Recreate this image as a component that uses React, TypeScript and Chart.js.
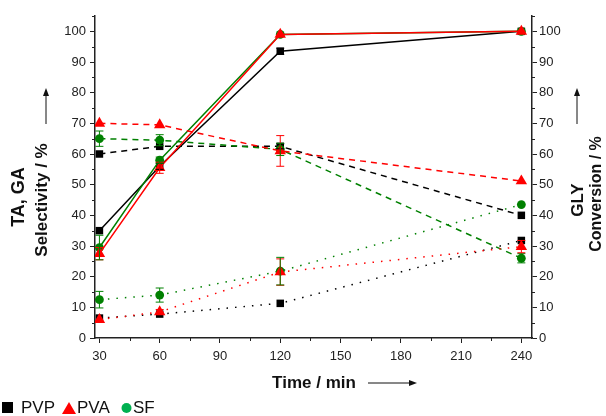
import React, { useEffect, useRef } from 'react';
import { Chart, registerables } from 'chart.js';
Chart.register(...registerables);

// ---- data ----
const times = [30, 60, 120, 240];
const xTicks = [30, 60, 90, 120, 150, 180, 210, 240];
const yTicks = [0, 10, 20, 30, 40, 50, 60, 70, 80, 90, 100];

const pvpConv = [35, 56, 93.5, 100];
const pvaConv = [27.5, 55.5, 99, 100];
const sfConv = [29.5, 58, 99, 100];
const pvpTA = [60, 62.5, 62.5, 40];
const pvaTA = [70, 69.5, 61, 51.2];
const sfTA = [65, 64.5, 61.5, 26];
const pvpGA = [6.5, 7.8, 11.3, 31.8];
const pvaGA = [6, 8.5, 21.5, 29.8];
const sfGA = [12.5, 14, 21.8, 43.5];

const pvpConvErr = [0.5, 1, 1, 0];
const pvaConvErr = [2, 1.8, 0.5, 0];
const sfConvErr = [4, 1, 0.5, 0.3];
const pvpTAErr = [0.5, 0.5, 0.8, 0.5];
const pvaTAErr = [0.5, 0.5, 5, 0.5];
const sfTAErr = [2.5, 1.8, 2, 1.5];
const pvpGAErr = [0.5, 0.5, 0.5, 0.5];
const pvaGAErr = [0.5, 0.8, 4.3, 2];
const sfGAErr = [2.7, 2.3, 4.5, 0.5];

const BLACK = '#000000';
const RED = '#ff0000';
const GREEN = '#008000';
const FONT = '"Liberation Sans", Arial, sans-serif';

const SOLID: number[] = [];
const DASH = [6, 5];
const DOT = [1.5, 7];

function mk(label: string, vals: number[], errs: number[], color: string, style: string, dash: number[], order: number, yAxisID: string) {
  const radius = style === 'rect' ? 5.3 : style === 'triangle' ? 6.6 : 4.4;
  return {
    label,
    data: times.map((t, i) => ({ x: t, y: vals[i] })),
    errors: errs,
    borderColor: color,
    backgroundColor: color,
    borderWidth: 1.5,
    borderDash: dash,
    pointStyle: style,
    pointRadius: radius,
    pointBorderWidth: 0,
    pointBackgroundColor: color,
    tension: 0,
    order,
    yAxisID,
  };
}

const errorBars = {
  id: 'errorBars',
  afterDatasetsDraw(chart: any) {
    const ctx = chart.ctx;
    chart.data.datasets.forEach((ds: any, di: number) => {
      const meta = chart.getDatasetMeta(di);
      const ys = chart.scales[ds.yAxisID];
      ctx.save();
      ctx.strokeStyle = ds.borderColor;
      ctx.lineWidth = 1;
      meta.data.forEach((pt: any, i: number) => {
        const e = ds.errors[i];
        if (!e || e < 0.8) return;
        const v = ds.data[i].y;
        const top = ys.getPixelForValue(v + e);
        const bot = ys.getPixelForValue(v - e);
        const x = pt.x;
        ctx.beginPath();
        ctx.moveTo(x, top); ctx.lineTo(x, bot);
        ctx.moveTo(x - 4, top); ctx.lineTo(x + 4, top);
        ctx.moveTo(x - 4, bot); ctx.lineTo(x + 4, bot);
        ctx.stroke();
      });
      ctx.restore();
    });
  },
};

function arrow(ctx: any, x1: number, y1: number, x2: number, y2: number) {
  const ang = Math.atan2(y2 - y1, x2 - x1);
  ctx.beginPath();
  ctx.moveTo(x1, y1);
  ctx.lineTo(x2 - 7 * Math.cos(ang), y2 - 7 * Math.sin(ang));
  ctx.stroke();
  ctx.beginPath();
  ctx.moveTo(x2, y2);
  ctx.lineTo(x2 - 8 * Math.cos(ang) + 3 * Math.sin(ang), y2 - 8 * Math.sin(ang) - 3 * Math.cos(ang));
  ctx.lineTo(x2 - 8 * Math.cos(ang) - 3 * Math.sin(ang), y2 - 8 * Math.sin(ang) + 3 * Math.cos(ang));
  ctx.closePath();
  ctx.fill();
}

const decor = {
  id: 'decor',
  afterDraw(chart: any) {
    const ctx = chart.ctx;
    const xs = chart.scales.x;
    const yl = chart.scales.y;
    const ca = chart.chartArea;
    ctx.save();
    // minor ticks
    ctx.strokeStyle = '#222';
    ctx.lineWidth = 1;
    ctx.beginPath();
    for (let v = 5; v <= 105; v += 10) {
      const py = Math.round(yl.getPixelForValue(v)) + 0.5;
      ctx.moveTo(ca.left, py); ctx.lineTo(ca.left - 3, py);
      ctx.moveTo(ca.right, py); ctx.lineTo(ca.right + 3, py);
    }
    for (let v = 45; v < 240; v += 30) {
      const px = Math.round(xs.getPixelForValue(v)) + 0.5;
      ctx.moveTo(px, ca.bottom); ctx.lineTo(px, ca.bottom + 3);
    }
    ctx.stroke();

    // axis titles
    ctx.fillStyle = '#111';
    ctx.strokeStyle = '#111';
    ctx.textAlign = 'center';
    ctx.textBaseline = 'middle';
    const vtext = (t: string, x: number, y: number, size: number) => {
      ctx.save();
      ctx.font = 'bold ' + size + 'px ' + FONT;
      ctx.translate(x, y);
      ctx.rotate(-Math.PI / 2);
      ctx.fillText(t, 0, 0);
      ctx.restore();
    };
    vtext('TA, GA', 19, 197, 18);
    vtext('Selectivity / %', 42, 200, 17);
    vtext('GLY', 578, 200, 17);
    vtext('Conversion / %', 597, 194, 16);
    ctx.font = 'bold 17px ' + FONT;
    ctx.fillText('Time / min', 314, 383);
    ctx.lineWidth = 1;
    arrow(ctx, 46, 124, 46, 88);
    arrow(ctx, 577, 124, 577, 88);
    arrow(ctx, 368, 383, 417, 383);

    // legend
    ctx.textAlign = 'left';
    ctx.font = '17px ' + FONT;
    const ly = 408;
    ctx.fillStyle = '#000';
    ctx.fillRect(2, ly - 6, 11, 11);
    ctx.fillStyle = '#111';
    ctx.fillText('PVP', 21, ly);
    ctx.fillStyle = '#ff0000';
    ctx.beginPath();
    ctx.moveTo(69, ly - 6); ctx.lineTo(76, ly + 6); ctx.lineTo(62, ly + 6); ctx.closePath();
    ctx.fill();
    ctx.fillStyle = '#111';
    ctx.fillText('PVA', 77, ly);
    ctx.fillStyle = '#00b050';
    ctx.beginPath();
    ctx.arc(126.5, ly, 5, 0, Math.PI * 2);
    ctx.fill();
    ctx.fillStyle = '#111';
    ctx.fillText('SF', 133, ly);
    ctx.restore();
  },
};

export default function App() {
  const ref = useRef<HTMLCanvasElement>(null);
  useEffect(() => {
    document.body.style.margin = '0';
    const datasets: any[] = [
      mk('PVP conversion', pvpConv, pvpConvErr, BLACK, 'rect', SOLID, 2, 'y2'),
      mk('PVA conversion', pvaConv, pvaConvErr, RED, 'triangle', SOLID, 0, 'y2'),
      mk('SF conversion', sfConv, sfConvErr, GREEN, 'circle', SOLID, 1, 'y2'),
      mk('PVP TA', pvpTA, pvpTAErr, BLACK, 'rect', DASH, 2, 'y'),
      mk('PVA TA', pvaTA, pvaTAErr, RED, 'triangle', DASH, 0, 'y'),
      mk('SF TA', sfTA, sfTAErr, GREEN, 'circle', DASH, 1, 'y'),
      mk('PVP GA', pvpGA, pvpGAErr, BLACK, 'rect', DOT, 2, 'y'),
      mk('PVA GA', pvaGA, pvaGAErr, RED, 'triangle', DOT, 0, 'y'),
      mk('SF GA', sfGA, sfGAErr, GREEN, 'circle', DOT, 1, 'y'),
    ];
    const tickFont = { family: FONT, size: 13 };
    const yCommon = (pos: string, width: number) => ({
      type: 'linear',
      position: pos,
      min: 0,
      max: 105,
      afterBuildTicks: (s: any) => { s.ticks = yTicks.map((v) => ({ value: v })); },
      afterFit: (s: any) => { s.width = width; },
      grid: { drawOnChartArea: false, drawTicks: true, tickLength: 5, tickColor: '#222', tickWidth: 1 },
      border: { display: true, color: '#222', width: 1.5 },
      ticks: { font: tickFont, color: '#222', padding: pos === 'left' ? 4 : 2 },
    });
    const chart = new Chart(ref.current as HTMLCanvasElement, {
      type: 'line',
      data: { datasets },
      options: {
        animation: false,
        responsive: false,
        devicePixelRatio: 1,
        layout: { padding: { top: 16, left: 0, right: 0, bottom: 0 } },
        plugins: { legend: { display: false }, tooltip: { enabled: false } },
        scales: {
          x: {
            type: 'linear',
            min: 27.8,
            max: 245.3,
            afterBuildTicks: (s: any) => { s.ticks = xTicks.map((v) => ({ value: v })); },
            afterFit: (s: any) => { s.height = 78; },
            grid: { drawOnChartArea: false, drawTicks: true, tickLength: 5, tickColor: '#222', tickWidth: 1 },
            border: { display: true, color: '#222', width: 1.5 },
            ticks: { font: tickFont, color: '#222', padding: 6, maxRotation: 0 },
          },
          y: yCommon('left', 95) as any,
          y2: yCommon('right', 74) as any,
        },
      } as any,
      plugins: [errorBars, decor],
    });
    return () => chart.destroy();
  }, []);
  return (
    <div style={{ position: 'absolute', left: 0, top: 0, width: 606, height: 416 }}>
      <canvas ref={ref} width={606} height={416} />
    </div>
  );
}
